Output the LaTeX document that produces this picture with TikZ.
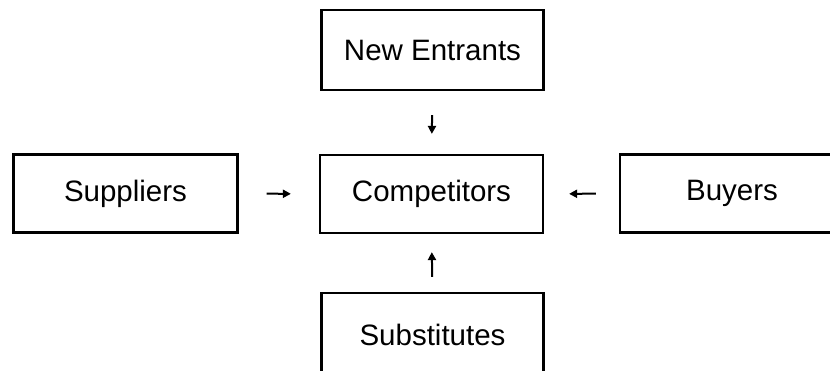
\documentclass[tikz,border=0pt]{standalone}
\usepackage{fontspec}
\setmainfont{Liberation Sans}
\usetikzlibrary{arrows.meta}
\begin{document}
\begin{tikzpicture}[x=1pt,y=-1pt,
  forcebox/.style={draw, line width=2.2pt, inner sep=0pt, minimum width=222pt,
    minimum height=78pt, font=\fontsize{29.5}{34}\selectfont},
  flow/.style={line width=2pt, -{Triangle[length=8pt,width=8pt]}}]
  \useasboundingbox (0,0) rectangle (830,370);
  \clip (0,0) rectangle (830,370);
  \fill[white] (0,0) rectangle (830,370);
  % the five forces
  \node[forcebox, minimum height=80pt] (entrants) at (432.5,50) {New Entrants};
  \node[forcebox, minimum width=223pt] (competitors) at (431.5,194) {Competitors};
  \node[forcebox, minimum width=224pt] (suppliers) at (125.5,193.5) {Suppliers};
  \node[forcebox, minimum width=224pt] (buyers) at (732,193.5) {Buyers};
  \node[forcebox, minimum height=84pt] (substitutes) at (432.5,335) {Substitutes};
  % short arrows in the gaps, pointing at the centre box
  \draw[flow, shorten <=24pt, shorten >=20pt] (entrants.south) -- (competitors.north);
  \draw[flow, shorten <=15pt, shorten >=18pt] (substitutes.north) -- (competitors.south);
  \draw[flow, shorten <=28pt, shorten >=28pt] (suppliers.east) -- (competitors.west);
  \draw[flow, shorten <=23pt, shorten >=25pt] (buyers.west) -- (competitors.east);
\end{tikzpicture}
\end{document}
